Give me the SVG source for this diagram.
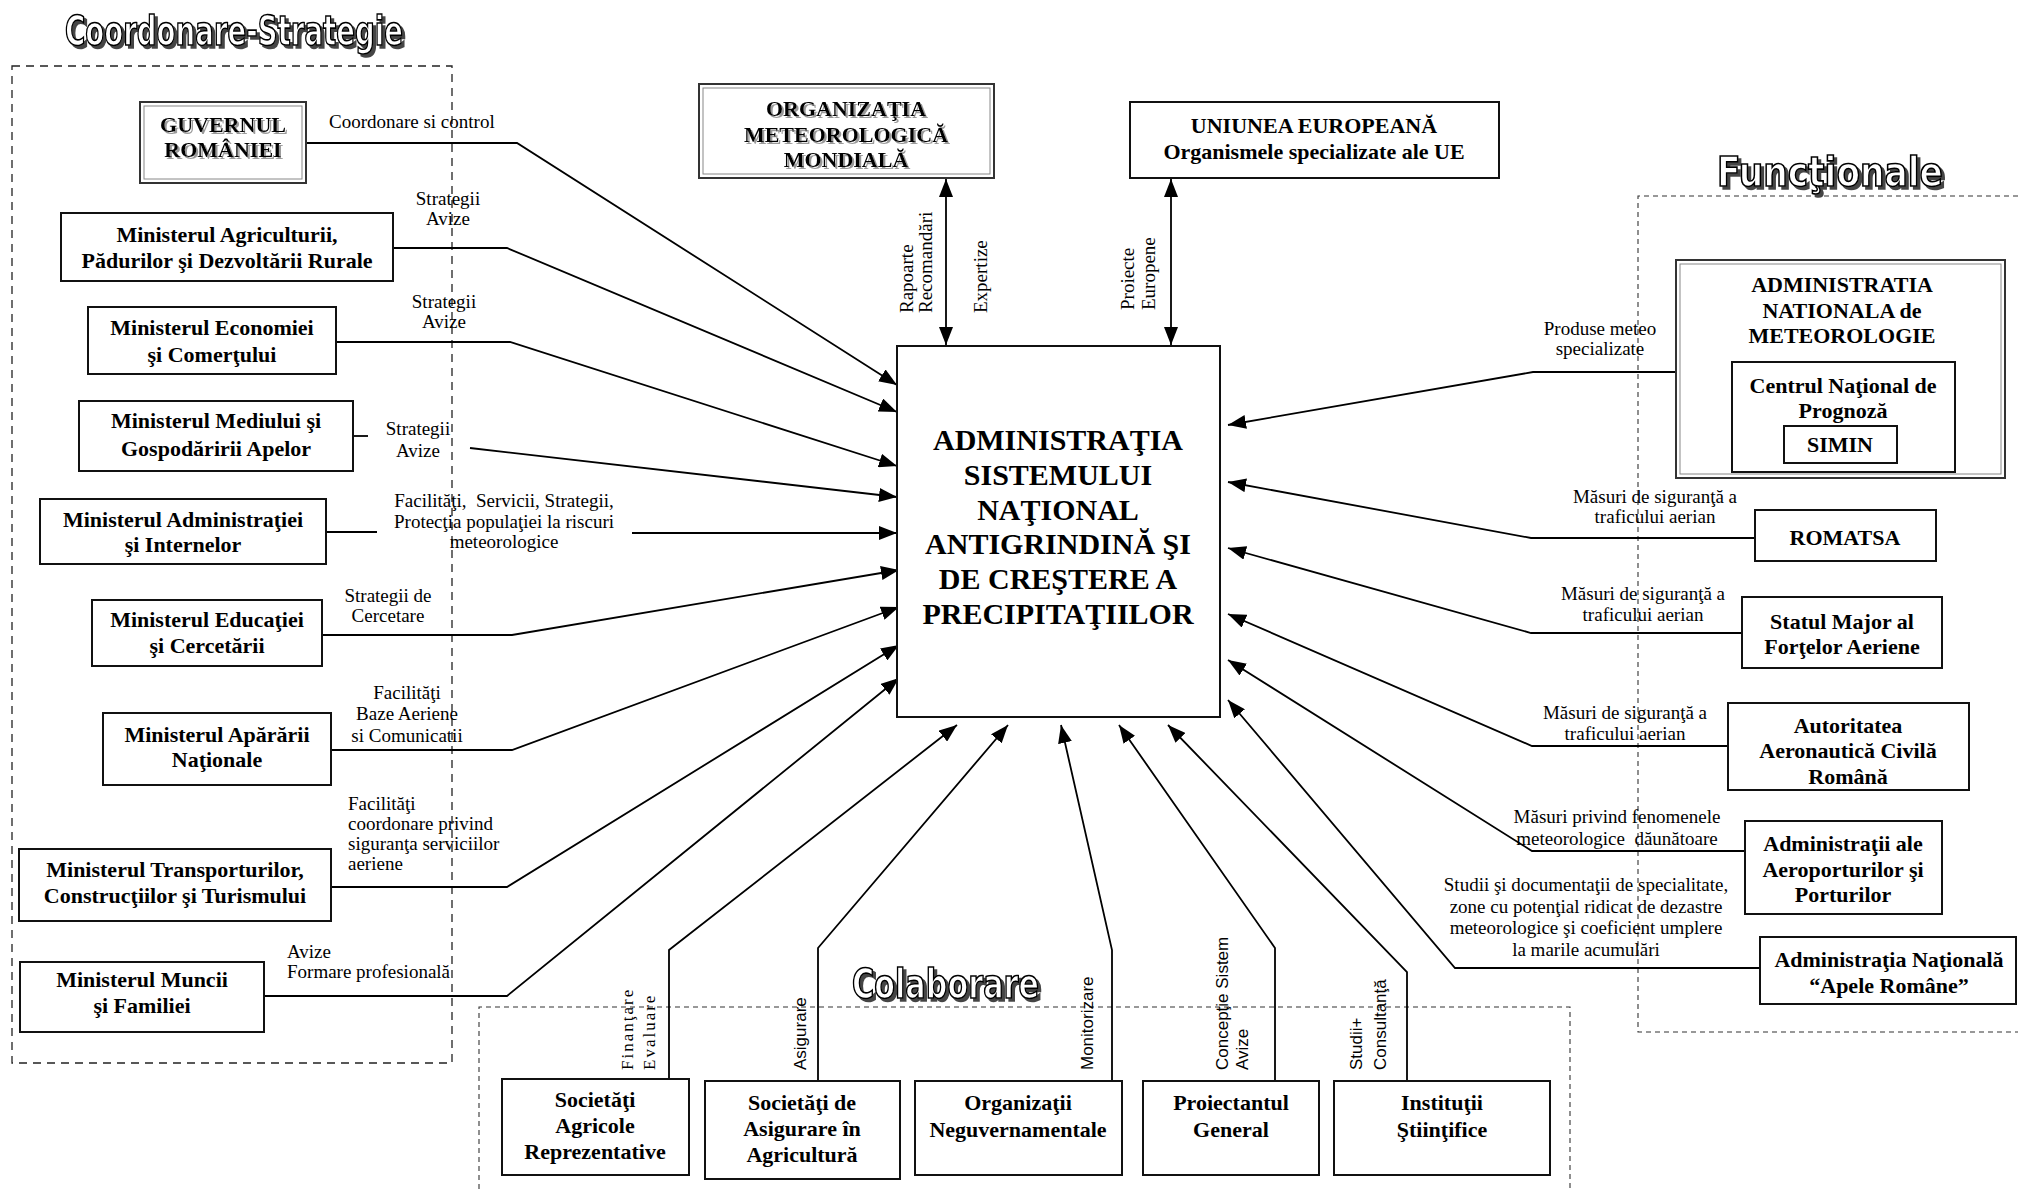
<svg xmlns="http://www.w3.org/2000/svg" width="2018" height="1189" viewBox="0 0 2018 1189">
<defs>
  <marker id="ah" markerUnits="userSpaceOnUse" markerWidth="20" markerHeight="14" refX="18" refY="7" orient="auto-start-reverse">
    <path d="M0,0 L18,7 L0,14 z" fill="#000"/>
  </marker>
  <filter id="wa" x="-5%" y="-20%" width="115%" height="150%">
    <feOffset in="SourceAlpha" dx="3" dy="3" result="o"/>
    <feFlood flood-color="#444"/>
    <feComposite in2="o" operator="in" result="s"/>
    <feMerge><feMergeNode in="s"/><feMergeNode in="SourceGraphic"/></feMerge>
  </filter>
  <filter id="ts" x="-5%" y="-20%" width="115%" height="150%">
    <feOffset in="SourceAlpha" dx="1.5" dy="1.5" result="o"/>
    <feFlood flood-color="#999"/>
    <feComposite in2="o" operator="in" result="s"/>
    <feMerge><feMergeNode in="s"/><feMergeNode in="SourceGraphic"/></feMerge>
  </filter>
</defs>
<style>
  .box{fill:#fff;stroke:#111;stroke-width:2}
  .frame{fill:#fff;stroke:#333;stroke-width:2}
  .inner{fill:none;stroke:#888;stroke-width:1}
  .bt{font-family:"Liberation Serif","Times New Roman",serif;font-weight:bold;font-size:22px;fill:#000;text-anchor:middle}
  .big{font-size:30px}
  .sh{filter:url(#ts)}
  .lbl{font-family:"Liberation Serif","Times New Roman",serif;font-size:19px;fill:#000}
  .m{text-anchor:middle}
  .vs{font-family:"Liberation Sans",Arial,sans-serif;font-size:17px;fill:#000}
  .vf{font-family:"Liberation Serif",serif;font-size:17px;letter-spacing:2px;fill:#000}
  .conn{fill:none;stroke:#000;stroke-width:1.8}
  .arr{marker-end:url(#ah)}
  .dbl{marker-start:url(#ah);marker-end:url(#ah)}
  .dash{fill:none;stroke:#222;stroke-width:1.3;stroke-dasharray:8 6}
  .dash2{fill:none;stroke:#333;stroke-width:1.1;stroke-dasharray:5 4}
  .wa{font-family:"DejaVu Sans Condensed","DejaVu Sans",sans-serif;font-weight:bold;font-size:40px;fill:#fff;stroke:#000;stroke-width:1.6;filter:url(#wa)}
</style>
<rect width="2018" height="1189" fill="#fff"/>

<g id="zones">
  <rect class="dash" x="12" y="66" width="440" height="997"/>
  <path class="dash2" d="M2018,196 L1638,196 L1638,1032 L2018,1032"/>
  <path class="dash2" d="M479,1189 L479,1007 L1570,1007 L1570,1189"/>
  <text class="wa" x="65" y="45" textLength="338" lengthAdjust="spacingAndGlyphs">Coordonare-Strategie</text>
  <text class="wa" x="1717" y="186" textLength="226" lengthAdjust="spacingAndGlyphs">Funcţionale</text>
  <text class="wa" x="852" y="998" textLength="187" lengthAdjust="spacingAndGlyphs">Colaborare</text>
</g>

<g id="connectors">
  <g id="c-guvern">
    <polyline class="conn arr" points="306,143 517,143 897,385"/>
    <text class="lbl" x="329" y="128">Coordonare si control</text>
  </g>
  <g id="c-agric">
    <polyline class="conn arr" points="393,248 507,248 897,412"/>
    <text class="lbl m" x="448" y="205">Strategii</text>
    <text class="lbl m" x="448" y="225">Avize</text>
  </g>
  <g id="c-econ">
    <polyline class="conn arr" points="336,342 510,342 897,466"/>
    <text class="lbl m" x="444" y="308">Strategii</text>
    <text class="lbl m" x="444" y="328">Avize</text>
  </g>
  <g id="c-mediu">
    <polyline class="conn" points="353,436 368,436"/>
    <polyline class="conn arr" points="470,448 897,497"/>
    <text class="lbl m" x="418" y="435">Strategii</text>
    <text class="lbl m" x="418" y="457">Avize</text>
  </g>
  <g id="c-admin">
    <polyline class="conn" points="326,532 377,532"/>
    <polyline class="conn arr" points="632,533 897,533"/>
    <text class="lbl m" x="504" y="507" xml:space="preserve">Facilităţi,  Servicii, Strategii,</text>
    <text class="lbl m" x="504" y="528">Protecţia populaţiei la riscuri</text>
    <text class="lbl m" x="504" y="548">meteorologice</text>
  </g>
  <g id="c-educ">
    <polyline class="conn arr" points="322,635 512,635 899,570"/>
    <text class="lbl m" x="388" y="602">Strategii de</text>
    <text class="lbl m" x="388" y="622">Cercetare</text>
  </g>
  <g id="c-apar">
    <polyline class="conn arr" points="331,750 512,750 899,607"/>
    <text class="lbl m" x="407" y="699">Facilităţi</text>
    <text class="lbl m" x="407" y="720">Baze Aeriene</text>
    <text class="lbl m" x="407" y="742">si Comunicatii</text>
  </g>
  <g id="c-transp">
    <polyline class="conn arr" points="331,887 507,887 899,645"/>
    <text class="lbl" x="348" y="810">Facilităţi</text>
    <text class="lbl" x="348" y="830">coordonare privind</text>
    <text class="lbl" x="348" y="850">siguranţa serviciilor</text>
    <text class="lbl" x="348" y="870">aeriene</text>
  </g>
  <g id="c-munca">
    <polyline class="conn arr" points="264,996 507,996 899,678"/>
    <text class="lbl" x="287" y="958">Avize</text>
    <text class="lbl" x="287" y="978">Formare profesională</text>
  </g>
  <g id="c-omm">
    <line class="conn dbl" x1="946" y1="179" x2="946" y2="345"/>
    <text class="lbl" transform="translate(913,313) rotate(-90)">Rapoarte</text>
    <text class="lbl" transform="translate(932,313) rotate(-90)">Recomandări</text>
    <text class="lbl" transform="translate(987,313) rotate(-90)">Expertize</text>
  </g>
  <g id="c-ue">
    <line class="conn dbl" x1="1171" y1="179" x2="1171" y2="345"/>
    <text class="lbl" transform="translate(1134,310) rotate(-90)">Proiecte</text>
    <text class="lbl" transform="translate(1155,310) rotate(-90)">Europene</text>
  </g>
  <g id="c-anm">
    <polyline class="conn arr" points="1676,372 1533,372 1228,425"/>
    <text class="lbl m" x="1600" y="335">Produse meteo</text>
    <text class="lbl m" x="1600" y="355">specializate</text>
  </g>
  <g id="c-romatsa">
    <polyline class="conn arr" points="1755,538 1531,538 1228,482"/>
    <text class="lbl m" x="1655" y="503">Măsuri de siguranţă a</text>
    <text class="lbl m" x="1655" y="523">traficului aerian</text>
  </g>
  <g id="c-statul">
    <polyline class="conn arr" points="1742,633 1531,633 1228,548"/>
    <text class="lbl m" x="1643" y="600">Măsuri de siguranţă a</text>
    <text class="lbl m" x="1643" y="621">traficului aerian</text>
  </g>
  <g id="c-aacr">
    <polyline class="conn arr" points="1728,746 1532,746 1228,614"/>
    <text class="lbl m" x="1625" y="719">Măsuri de siguranţă a</text>
    <text class="lbl m" x="1625" y="740">traficului aerian</text>
  </g>
  <g id="c-aeroport">
    <polyline class="conn arr" points="1745,851 1532,851 1228,660"/>
    <text class="lbl m" x="1617" y="823">Măsuri privind fenomenele</text>
    <text class="lbl m" x="1617" y="845" xml:space="preserve">meteorologice  dăunătoare</text>
  </g>
  <g id="c-apele">
    <polyline class="conn arr" points="1760,968 1455,968 1228,700"/>
    <text class="lbl m" x="1586" y="891">Studii şi documentaţii de specialitate,</text>
    <text class="lbl m" x="1586" y="913">zone cu potenţial ridicat de dezastre</text>
    <text class="lbl m" x="1586" y="934">meteorologice şi coeficient umplere</text>
    <text class="lbl m" x="1586" y="956">la marile acumulări</text>
  </g>
  <g id="c-socagr">
    <polyline class="conn arr" points="669,1079 669,950 957,725"/>
    <text class="vf" transform="translate(633,1070) rotate(-90)">Finanţare</text>
    <text class="vf" transform="translate(655,1070) rotate(-90)">Evaluare</text>
  </g>
  <g id="c-asig">
    <polyline class="conn arr" points="818,1081 818,948 1008,725"/>
    <text class="vs" transform="translate(806,1070) rotate(-90)">Asigurare</text>
  </g>
  <g id="c-ong">
    <polyline class="conn arr" points="1112,1081 1112,950 1061,725"/>
    <text class="vs" transform="translate(1093,1070) rotate(-90)">Monitorizare</text>
  </g>
  <g id="c-proiect">
    <polyline class="conn arr" points="1275,1081 1275,948 1119,725"/>
    <text class="vs" transform="translate(1228,1070) rotate(-90)">Concepţie Sistem</text>
    <text class="vs" transform="translate(1248,1070) rotate(-90)">Avize</text>
  </g>
  <g id="c-inst">
    <polyline class="conn arr" points="1407,1081 1407,972 1168,725"/>
    <text class="vs" transform="translate(1362,1070) rotate(-90)">Studii+</text>
    <text class="vs" transform="translate(1386,1070) rotate(-90)">Consultanţă</text>
  </g>
</g>

<g id="n-guvern">
  <rect class="frame" x="140" y="102" width="166" height="81"/>
  <rect class="inner" x="144" y="106" width="158" height="73"/>
  <text class="bt sh" x="223" y="132">GUVERNUL</text>
  <text class="bt sh" x="223" y="157">ROMÂNIEI</text>
</g>
<g id="n-agric">
  <rect class="box" x="61" y="213" width="332" height="68"/>
  <text class="bt" x="227" y="242">Ministerul Agriculturii,</text>
  <text class="bt" x="227" y="268">Pădurilor şi Dezvoltării Rurale</text>
</g>
<g id="n-econ">
  <rect class="box" x="88" y="307" width="248" height="67"/>
  <text class="bt" x="212" y="335">Ministerul Economiei</text>
  <text class="bt" x="212" y="362">şi Comerţului</text>
</g>
<g id="n-mediu">
  <rect class="box" x="79" y="401" width="274" height="70"/>
  <text class="bt" x="216" y="428">Ministerul Mediului şi</text>
  <text class="bt" x="216" y="456">Gospodăririi Apelor</text>
</g>
<g id="n-admin">
  <rect class="box" x="40" y="499" width="286" height="65"/>
  <text class="bt" x="183" y="527">Ministerul Administraţiei</text>
  <text class="bt" x="183" y="552">şi Internelor</text>
</g>
<g id="n-educ">
  <rect class="box" x="92" y="600" width="230" height="66"/>
  <text class="bt" x="207" y="627">Ministerul Educaţiei</text>
  <text class="bt" x="207" y="653">şi Cercetării</text>
</g>
<g id="n-apar">
  <rect class="box" x="103" y="713" width="228" height="72"/>
  <text class="bt" x="217" y="742">Ministerul Apărării</text>
  <text class="bt" x="217" y="767">Naţionale</text>
</g>
<g id="n-transp">
  <rect class="box" x="19" y="849" width="312" height="72"/>
  <text class="bt" x="175" y="877">Ministerul Transporturilor,</text>
  <text class="bt" x="175" y="903">Construcţiilor şi Turismului</text>
</g>
<g id="n-munca">
  <rect class="box" x="20" y="962" width="244" height="70"/>
  <text class="bt" x="142" y="987">Ministerul Muncii</text>
  <text class="bt" x="142" y="1013">şi Familiei</text>
</g>

<g id="n-omm">
  <rect class="frame" x="699" y="84" width="295" height="94"/>
  <rect class="inner" x="703" y="88" width="287" height="86"/>
  <text class="bt sh" x="846" y="116">ORGANIZAŢIA</text>
  <text class="bt sh" x="846" y="142">METEOROLOGICĂ</text>
  <text class="bt sh" x="846" y="167">MONDIALĂ</text>
</g>
<g id="n-ue">
  <rect class="box" x="1130" y="102" width="369" height="76"/>
  <text class="bt" x="1314" y="133">UNIUNEA EUROPEANĂ</text>
  <text class="bt" x="1314" y="159">Organismele specializate ale UE</text>
</g>

<g id="n-center">
  <rect class="box" x="897" y="346" width="323" height="371"/>
  <text class="bt big" x="1058" y="450">ADMINISTRAŢIA</text>
  <text class="bt big" x="1058" y="485">SISTEMULUI</text>
  <text class="bt big" x="1058" y="520">NAŢIONAL</text>
  <text class="bt big" x="1058" y="554">ANTIGRINDINĂ ŞI</text>
  <text class="bt big" x="1058" y="589">DE CREŞTERE A</text>
  <text class="bt big" x="1058" y="624">PRECIPITAŢIILOR</text>
</g>

<g id="n-anm">
  <rect class="frame" x="1676" y="260" width="329" height="218"/>
  <rect class="inner" x="1680" y="264" width="321" height="210"/>
  <text class="bt" x="1842" y="292">ADMINISTRATIA</text>
  <text class="bt" x="1842" y="318">NATIONALA de</text>
  <text class="bt" x="1842" y="343">METEOROLOGIE</text>
  <g id="n-cnp">
    <rect class="box" x="1732" y="362" width="223" height="110"/>
    <text class="bt" x="1843" y="393">Centrul Naţional de</text>
    <text class="bt" x="1843" y="418">Prognoză</text>
  </g>
  <g id="n-simin">
    <rect class="box" x="1784" y="426" width="113" height="37"/>
    <text class="bt" x="1840" y="452">SIMIN</text>
  </g>
</g>
<g id="n-romatsa">
  <rect class="box" x="1755" y="510" width="181" height="51"/>
  <text class="bt" x="1845" y="545">ROMATSA</text>
</g>
<g id="n-statul">
  <rect class="box" x="1742" y="597" width="200" height="71"/>
  <text class="bt" x="1842" y="629">Statul Major al</text>
  <text class="bt" x="1842" y="654">Forţelor Aeriene</text>
</g>
<g id="n-aacr">
  <rect class="box" x="1728" y="703" width="241" height="87"/>
  <text class="bt" x="1848" y="733">Autoritatea</text>
  <text class="bt" x="1848" y="758">Aeronautică Civilă</text>
  <text class="bt" x="1848" y="784">Română</text>
</g>
<g id="n-aeroport">
  <rect class="box" x="1745" y="821" width="197" height="93"/>
  <text class="bt" x="1843" y="851">Administraţii ale</text>
  <text class="bt" x="1843" y="877">Aeroporturilor şi</text>
  <text class="bt" x="1843" y="902">Porturilor</text>
</g>
<g id="n-apele">
  <rect class="box" x="1760" y="937" width="256" height="67"/>
  <text class="bt" x="1889" y="967">Administraţia Naţională</text>
  <text class="bt" x="1889" y="993">“Apele Române”</text>
</g>

<g id="n-socagr">
  <rect class="box" x="502" y="1079" width="187" height="96"/>
  <text class="bt" x="595" y="1107">Societăţi</text>
  <text class="bt" x="595" y="1133">Agricole</text>
  <text class="bt" x="595" y="1159">Reprezentative</text>
</g>
<g id="n-asig">
  <rect class="box" x="705" y="1081" width="195" height="98"/>
  <text class="bt" x="802" y="1110">Societăţi de</text>
  <text class="bt" x="802" y="1136">Asigurare în</text>
  <text class="bt" x="802" y="1162">Agricultură</text>
</g>
<g id="n-ong">
  <rect class="box" x="915" y="1081" width="207" height="94"/>
  <text class="bt" x="1018" y="1110">Organizaţii</text>
  <text class="bt" x="1018" y="1137">Neguvernamentale</text>
</g>
<g id="n-proiect">
  <rect class="box" x="1143" y="1081" width="176" height="94"/>
  <text class="bt" x="1231" y="1110">Proiectantul</text>
  <text class="bt" x="1231" y="1137">General</text>
</g>
<g id="n-inst">
  <rect class="box" x="1334" y="1081" width="216" height="94"/>
  <text class="bt" x="1442" y="1110">Instituţii</text>
  <text class="bt" x="1442" y="1137">Ştiinţifice</text>
</g>
</svg>
